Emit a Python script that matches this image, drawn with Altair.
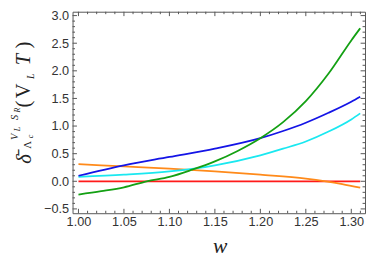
import altair as alt
import pandas as pd

# ---- data ----
w_red = [1.00, 1.3098]
v_red = [0.0, 0.0]

w_orange = [1.00, 1.05, 1.10, 1.15, 1.20, 1.25, 1.272, 1.29, 1.3098]
v_orange = [0.31, 0.27, 0.23, 0.18, 0.12, 0.05, 0.0, -0.05, -0.115]

w_cyan = [1.00, 1.05, 1.10, 1.15, 1.20, 1.225, 1.25, 1.275, 1.30, 1.3098]
v_cyan = [0.08, 0.12, 0.18, 0.29, 0.47, 0.59, 0.72, 0.90, 1.12, 1.23]

w_blue = [1.00, 1.05, 1.10, 1.15, 1.20, 1.225, 1.25, 1.275, 1.30, 1.3098]
v_blue = [0.10, 0.29, 0.44, 0.59, 0.78, 0.91, 1.06, 1.24, 1.44, 1.53]

w_green = [1.00, 1.025, 1.05, 1.075, 1.10, 1.125, 1.15, 1.175, 1.20, 1.225, 1.25, 1.275, 1.30, 1.3098]
v_green = [-0.24, -0.18, -0.11, 0.0, 0.08, 0.21, 0.36, 0.55, 0.78, 1.07, 1.45, 1.95, 2.55, 2.77]

x_major = [1.00, 1.05, 1.10, 1.15, 1.20, 1.25, 1.30]
x_minor = [1.01, 1.02, 1.03, 1.04, 1.06, 1.07, 1.08, 1.09, 1.11, 1.12, 1.13, 1.14,
           1.16, 1.17, 1.18, 1.19, 1.21, 1.22, 1.23, 1.24, 1.26, 1.27, 1.28, 1.29, 1.31]
y_major = [-0.5, 0.0, 0.5, 1.0, 1.5, 2.0, 2.5, 3.0]
y_minor = [-0.4, -0.3, -0.2, -0.1, 0.1, 0.2, 0.3, 0.4, 0.6, 0.7, 0.8, 0.9,
           1.1, 1.2, 1.3, 1.4, 1.6, 1.7, 1.8, 1.9, 2.1, 2.2, 2.3, 2.4,
           2.6, 2.7, 2.8, 2.9]

names = ["1red", "2orange", "3cyan", "4blue", "5green"]
colors = ["#ff1a1a", "#ff8a1a", "#1ae8f0", "#1414e6", "#13a013"]

rows = []
for n, ws, vs in zip(names, [w_red, w_orange, w_cyan, w_blue, w_green],
                     [v_red, v_orange, v_cyan, v_blue, v_green]):
    for a, b in zip(ws, vs):
        rows.append({"s": n, "w": a, "v": b})
df = pd.DataFrame(rows)

W, H = 299, 206
frame_col = "#555555"
xs = alt.Scale(domain=[0.9935, 1.3151], nice=False, zero=False)
ys = alt.Scale(domain=[-0.578, 3.07], nice=False, zero=False)

ax_x = alt.Axis(values=x_major, format=".2f", ticks=False, domain=False, grid=False,
                title=None, labelFont="Liberation Sans", labelFontSize=13,
                labelColor="#333333", labelPadding=3)
ax_y = alt.Axis(values=y_major, format=".1f", ticks=False, domain=False, grid=False,
                title=None, labelFont="Liberation Sans", labelFontSize=13,
                labelColor="#333333", labelPadding=4)
X = alt.X("w:Q", scale=xs, axis=ax_x)
Y = alt.Y("v:Q", scale=ys, axis=ax_y)

lines = alt.Chart(df).mark_line(strokeWidth=1.8, interpolate="monotone").encode(
    x=X, y=Y,
    color=alt.Color("s:N", scale=alt.Scale(domain=names, range=colors), legend=None),
)

layers = [lines]


def xticks(vals, length):
    base = alt.Chart(pd.DataFrame({"w": vals})).mark_rule(color=frame_col, strokeWidth=1)
    return [
        base.encode(x=X, y=alt.value(H), y2=alt.value(H - length)),
        base.encode(x=X, y=alt.value(0), y2=alt.value(length)),
    ]


def yticks(vals, length):
    base = alt.Chart(pd.DataFrame({"v": vals})).mark_rule(color=frame_col, strokeWidth=1)
    return [
        base.encode(y=Y, x=alt.value(0), x2=alt.value(length)),
        base.encode(y=Y, x=alt.value(W), x2=alt.value(W - length)),
    ]


layers += xticks(x_major, 4.5) + xticks(x_minor, 2.5) + yticks(y_major, 4.5) + yticks(y_minor, 2.5)


def txt(s, x, y, size, italic=True, angle=270):
    return alt.Chart(pd.DataFrame({"t": [s]})).mark_text(
        angle=angle, fontSize=size, font="Liberation Serif",
        fontStyle="italic" if italic else "normal", align="center",
        baseline="middle", color="#222222"
    ).encode(x=alt.value(x), y=alt.value(y), text=alt.value(s))


# y title pieces: plot-relative positions (page x - 74, page y - 9)
layers += [
    txt("δ\u0304", -48, 150.5, 21),
    txt("V", -59, 128, 10.5),
    txt("L", -55.5, 120, 8),
    txt("S", -59, 108, 10.5),
    txt("R", -55.5, 100.5, 8),
    txt("Λ", -45, 136, 11, italic=False),
    txt("c", -42.5, 127.5, 8),
    txt("(", -49, 94.5, 21, italic=False),
    txt("V", -49, 81, 21, italic=False),
    txt("L", -42.5, 66, 10),
    txt("T", -49, 49, 21),
    txt(")", -49, 34, 21, italic=False),
    txt("w", 151, 240, 22, angle=0),
]

chart = alt.layer(*layers).properties(
    width=W, height=H,
    autosize=alt.AutoSizeParams(type="none"),
    padding={"left": 66, "top": 1, "right": 1, "bottom": 44},
).configure_view(stroke=frame_col, strokeWidth=1)

chart.save("out.html", embed_options={"renderer": "svg", "actions": False})
